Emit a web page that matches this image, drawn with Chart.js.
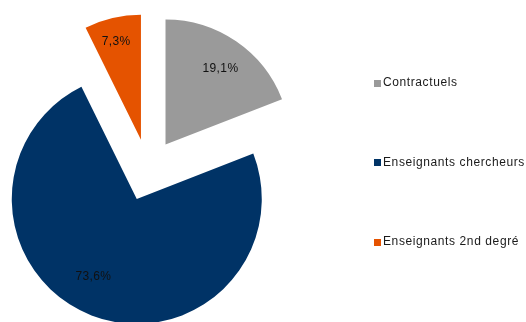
<!DOCTYPE html>
<html>
<head>
<meta charset="utf-8">
<script src="https://cdn.jsdelivr.net/npm/chart.js@4/dist/chart.umd.min.js"></script>
<style>
  html, body { margin: 0; padding: 0; background: #fff; }
  #wrap { width: 526px; height: 322px; }
</style>
</head>
<body>
<div id="wrap"><canvas id="graf" width="526" height="322"></canvas></div>
<script>
const categories = ["Contractuels", "Enseignants chercheurs", "Enseignants 2nd degré"];
const percentages = [19.1, 73.6, 7.3];
const colors = ["#9a9a9a", "#003366", "#e55300"];

const FONT = '"Liberation Sans", Arial, sans-serif';

// pull every slice away from the centre along its bisector
const explodePlugin = {
  id: "explode",
  beforeDatasetDraw(chart, args, opts) {
    const ctx = chart.ctx;
    args.meta.data.forEach(arc => {
      const mid = (arc.startAngle + arc.endAngle) / 2;
      ctx.save();
      ctx.translate(Math.cos(mid) * opts.distance, Math.sin(mid) * opts.distance);
      arc.draw(ctx);
      ctx.restore();
    });
    return false;
  }
};

// percentage text inside each slice
const sliceLabels = {
  id: "sliceLabels",
  afterDatasetsDraw(chart, args, opts) {
    const ctx = chart.ctx;
    const meta = chart.getDatasetMeta(0);
    const shift = chart.options.plugins.explode.distance;
    ctx.save();
    ctx.font = "12px " + FONT;
    ctx.letterSpacing = "0.4px";
    ctx.fillStyle = "#111";
    ctx.textAlign = "center";
    ctx.textBaseline = "middle";
    meta.data.forEach((arc, i) => {
      const turn = (opts.turn[i] || 0) * Math.PI / 180;
      const mid = (arc.startAngle + arc.endAngle) / 2;
      const dx = Math.cos(mid), dy = Math.sin(mid);
      const r = arc.outerRadius * opts.frac[i];
      const x = arc.x + dx * shift + Math.cos(mid + turn) * r;
      const y = arc.y + dy * shift + Math.sin(mid + turn) * r;
      ctx.fillText(percentages[i].toFixed(1).replace(".", ",") + "%", x, y);
    });
    ctx.restore();
  }
};

// legend column on the right
const sideLegend = {
  id: "sideLegend",
  afterDraw(chart, args, opts) {
    const ctx = chart.ctx;
    const ds = chart.data.datasets[0];
    ctx.save();
    ctx.font = "12px " + FONT;
    ctx.letterSpacing = "0.6px";
    ctx.textBaseline = "middle";
    chart.data.labels.forEach((label, i) => {
      const y = opts.top + i * opts.step;
      ctx.fillStyle = ds.backgroundColor[i];
      ctx.fillRect(opts.x, Math.round(y - 3.5), 7, 7);
      ctx.fillStyle = "#1a1a1a";
      ctx.fillText(label, opts.x + 9, y);
    });
    ctx.restore();
  }
};

new Chart(document.getElementById("graf"), {
  type: "pie",
  data: {
    labels: categories,
    datasets: [{
      data: percentages,
      backgroundColor: colors,
      borderWidth: 0
    }]
  },
  options: {
    responsive: false,
    animation: false,
    radius: 125,
    layout: { padding: { left: 2, right: 232, top: 18, bottom: 0 } },
    plugins: {
      legend: { display: false },
      tooltip: { enabled: false },
      explode: { distance: 31 },
      sliceLabels: { frac: [0.75, 0.71, 0.81], turn: [1.5, 8, -1] },
      sideLegend: { x: 374, top: 83, step: 79.5 }
    }
  },
  plugins: [explodePlugin, sliceLabels, sideLegend]
});
</script>
</body>
</html>
